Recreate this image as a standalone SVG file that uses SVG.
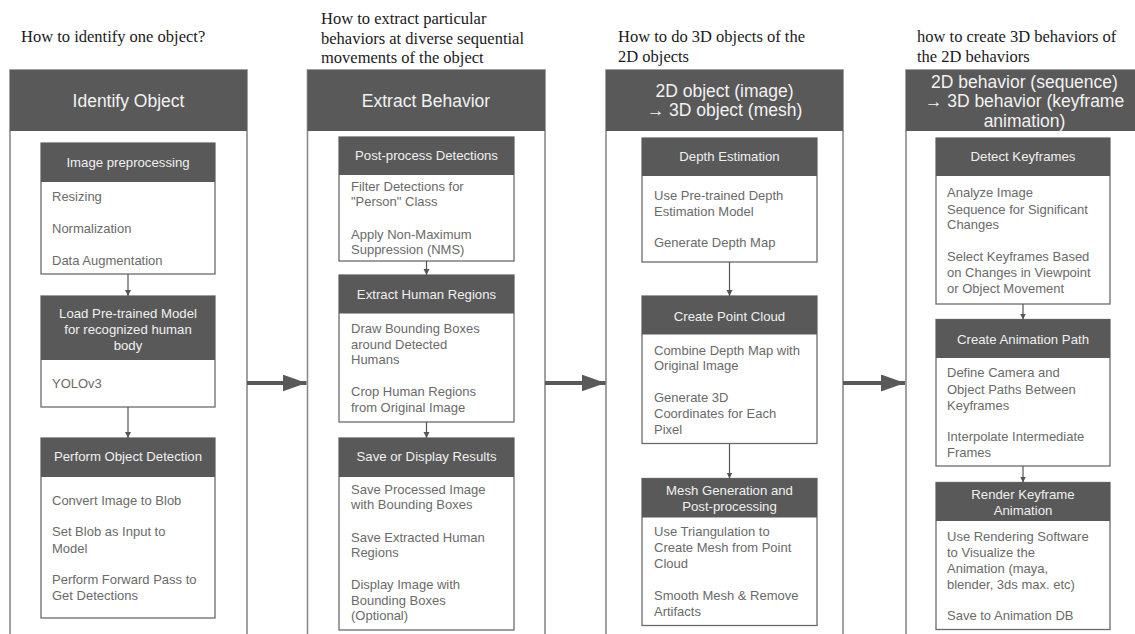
<svg xmlns="http://www.w3.org/2000/svg" width="1135" height="634" viewBox="0 0 1135 634">
<style>
.q{font-family:"Liberation Serif","Times New Roman",serif;font-size:16.5px;fill:#1a1a1a}
.panel{fill:#fff;stroke:#8a8a8a;stroke-width:1.6}
.phead{fill:#595959}
.ptitle{font-family:"Liberation Sans",Arial,sans-serif;font-size:17.5px;fill:#f2f2f2;text-anchor:middle}
.box{fill:#fff;stroke:#6a6a6a;stroke-width:1.3}
.bhead{fill:#595959}
.bt{font-family:"Liberation Sans",Arial,sans-serif;font-size:13.2px;fill:#f0f0f0;text-anchor:middle}
.tx{font-family:"Liberation Sans",Arial,sans-serif;font-size:13px;fill:#6a6a6a}
.sa{stroke:#555;stroke-width:1.2;fill:none;marker-end:url(#sm)}
.ba{stroke:#595959;stroke-width:4;fill:none;marker-end:url(#bg)}
</style>
<defs>
<marker id="sm" markerUnits="userSpaceOnUse" markerWidth="6" markerHeight="8" refX="6" refY="3" orient="auto" viewBox="0 0 6 6">
<path d="M0,0 L6,3 L0,6 z" fill="#555"/>
</marker>
<marker id="bg" markerUnits="userSpaceOnUse" markerWidth="24" markerHeight="17" refX="24" refY="8.5" orient="auto" viewBox="0 0 24 17">
<path d="M0,0 L24,8.5 L0,17 z" fill="#595959"/>
</marker>
</defs>
<rect width="1135" height="634" fill="#fff"/>

<g id="questions">
<text class="q" x="21" y="42">How to identify one object?</text>
<text class="q" x="321" y="24">How to extract particular</text>
<text class="q" x="321" y="43.7">behaviors at diverse sequential</text>
<text class="q" x="321" y="63.4">movements of the object</text>
<text class="q" x="618" y="42">How to do 3D objects of the</text>
<text class="q" x="618" y="61.7">2D objects</text>
<text class="q" x="917" y="42">how to create 3D behaviors of</text>
<text class="q" x="917" y="61.7">the 2D behaviors</text>
</g>

<g id="panel-identify">
<rect class="panel" x="10" y="70" width="237" height="590"/>
<rect class="phead" x="10" y="70" width="237" height="61"/>
<text class="ptitle" x="128.5" y="107">Identify Object</text>
</g>
<g id="panel-extract">
<rect class="panel" x="307.5" y="70" width="237.5" height="590"/>
<rect class="phead" x="307.5" y="70" width="237.5" height="61"/>
<text class="ptitle" x="426" y="107">Extract Behavior</text>
</g>
<g id="panel-3dobject">
<rect class="panel" x="606" y="70" width="237" height="590"/>
<rect class="phead" x="606" y="70" width="237" height="61"/>
<text class="ptitle" x="724.5" y="96.5">2D object (image)</text>
<text class="ptitle" x="724.5" y="116.3">→ 3D object (mesh)</text>
</g>
<g id="panel-3dbehavior">
<rect class="panel" x="906" y="70" width="237" height="590"/>
<rect class="phead" x="906" y="70" width="237" height="61"/>
<text class="ptitle" x="1024.5" y="88">2D behavior (sequence)</text>
<text class="ptitle" x="1024.5" y="107.3">→ 3D behavior (keyframe</text>
<text class="ptitle" x="1024.5" y="126.5">animation)</text>
</g>

<g id="image-preprocessing">
<rect class="box" x="41" y="143" width="174" height="131"/>
<rect class="bhead" x="41" y="143" width="174" height="39"/>
<text class="bt" x="128" y="167">Image preprocessing</text>
<text class="tx" x="52" y="201">Resizing</text>
<text class="tx" x="52" y="233">Normalization</text>
<text class="tx" x="52" y="264.5">Data Augmentation</text>
</g>
<g id="load-model">
<rect class="box" x="41" y="296" width="174" height="111"/>
<rect class="bhead" x="41" y="296" width="174" height="64"/>
<text class="bt" x="128" y="318">Load Pre-trained Model</text>
<text class="bt" x="128" y="334">for recognized human</text>
<text class="bt" x="128" y="350">body</text>
<text class="tx" x="52" y="387.5">YOLOv3</text>
</g>
<g id="object-detection">
<rect class="box" x="41" y="438" width="174" height="180"/>
<rect class="bhead" x="41" y="438" width="174" height="39"/>
<text class="bt" x="128" y="461">Perform Object Detection</text>
<text class="tx" x="52" y="504.5">Convert Image to Blob</text>
<text class="tx" x="52" y="536">Set Blob as Input to</text>
<text class="tx" x="52" y="553">Model</text>
<text class="tx" x="52" y="584">Perform Forward Pass to</text>
<text class="tx" x="52" y="600">Get Detections</text>
</g>

<g id="post-process">
<rect class="box" x="339" y="137" width="175" height="124"/>
<rect class="bhead" x="339" y="137" width="175" height="38"/>
<text class="bt" x="426.5" y="160">Post-process Detections</text>
<text class="tx" x="351" y="190.5">Filter Detections for</text>
<text class="tx" x="351" y="206">"Person" Class</text>
<text class="tx" x="351" y="238.5">Apply Non-Maximum</text>
<text class="tx" x="351" y="254">Suppression (NMS)</text>
</g>
<g id="extract-regions">
<rect class="box" x="339" y="275" width="175" height="147"/>
<rect class="bhead" x="339" y="275" width="175" height="38.5"/>
<text class="bt" x="426.5" y="298.5">Extract Human Regions</text>
<text class="tx" x="351" y="333">Draw Bounding Boxes</text>
<text class="tx" x="351" y="348.5">around Detected</text>
<text class="tx" x="351" y="364">Humans</text>
<text class="tx" x="351" y="396">Crop Human Regions</text>
<text class="tx" x="351" y="412">from Original Image</text>
</g>
<g id="save-results">
<rect class="box" x="339" y="438" width="175" height="192"/>
<rect class="bhead" x="339" y="438" width="175" height="39"/>
<text class="bt" x="426.5" y="461">Save or Display Results</text>
<text class="tx" x="351" y="494">Save Processed Image</text>
<text class="tx" x="351" y="509">with Bounding Boxes</text>
<text class="tx" x="351" y="541.5">Save Extracted Human</text>
<text class="tx" x="351" y="557">Regions</text>
<text class="tx" x="351" y="589">Display Image with</text>
<text class="tx" x="351" y="605">Bounding Boxes</text>
<text class="tx" x="351" y="620">(Optional)</text>
</g>

<g id="depth-estimation">
<rect class="box" x="642" y="138" width="175" height="124"/>
<rect class="bhead" x="642" y="138" width="175" height="38"/>
<text class="bt" x="729.5" y="161">Depth Estimation</text>
<text class="tx" x="654" y="199.5">Use Pre-trained Depth</text>
<text class="tx" x="654" y="215.5">Estimation Model</text>
<text class="tx" x="654" y="247">Generate Depth Map</text>
</g>
<g id="point-cloud">
<rect class="box" x="642" y="296" width="175" height="147.5"/>
<rect class="bhead" x="642" y="296" width="175" height="38.5"/>
<text class="bt" x="729.5" y="320.5">Create Point Cloud</text>
<text class="tx" x="654" y="354.5">Combine Depth Map with</text>
<text class="tx" x="654" y="370">Original Image</text>
<text class="tx" x="654" y="402">Generate 3D</text>
<text class="tx" x="654" y="418">Coordinates for Each</text>
<text class="tx" x="654" y="433.5">Pixel</text>
</g>
<g id="mesh-generation">
<rect class="box" x="642" y="478.5" width="175" height="147"/>
<rect class="bhead" x="642" y="478.5" width="175" height="39"/>
<text class="bt" x="729.5" y="494.5">Mesh Generation and</text>
<text class="bt" x="729.5" y="510.5">Post-processing</text>
<text class="tx" x="654" y="536">Use Triangulation to</text>
<text class="tx" x="654" y="552">Create Mesh from Point</text>
<text class="tx" x="654" y="568">Cloud</text>
<text class="tx" x="654" y="600">Smooth Mesh &amp; Remove</text>
<text class="tx" x="654" y="616">Artifacts</text>
</g>

<g id="detect-keyframes">
<rect class="box" x="936" y="138" width="174" height="166"/>
<rect class="bhead" x="936" y="138" width="174" height="38"/>
<text class="bt" x="1023" y="161">Detect Keyframes</text>
<text class="tx" x="947" y="197">Analyze Image</text>
<text class="tx" x="947" y="213.5">Sequence for Significant</text>
<text class="tx" x="947" y="228.5">Changes</text>
<text class="tx" x="947" y="261">Select Keyframes Based</text>
<text class="tx" x="947" y="277">on Changes in Viewpoint</text>
<text class="tx" x="947" y="293">or Object Movement</text>
</g>
<g id="animation-path">
<rect class="box" x="936" y="319.5" width="174" height="146.5"/>
<rect class="bhead" x="936" y="319.5" width="174" height="38.5"/>
<text class="bt" x="1023" y="344">Create Animation Path</text>
<text class="tx" x="947" y="377">Define Camera and</text>
<text class="tx" x="947" y="393.5">Object Paths Between</text>
<text class="tx" x="947" y="409.5">Keyframes</text>
<text class="tx" x="947" y="441">Interpolate Intermediate</text>
<text class="tx" x="947" y="457">Frames</text>
</g>
<g id="render-animation">
<rect class="box" x="936" y="482.5" width="174" height="147"/>
<rect class="bhead" x="936" y="482.5" width="174" height="38.5"/>
<text class="bt" x="1023" y="498.5">Render Keyframe</text>
<text class="bt" x="1023" y="514.5">Animation</text>
<text class="tx" x="947" y="541">Use Rendering Software</text>
<text class="tx" x="947" y="557">to Visualize the</text>
<text class="tx" x="947" y="573">Animation (maya,</text>
<text class="tx" x="947" y="589">blender, 3ds max. etc)</text>
<text class="tx" x="947" y="620">Save to Animation DB</text>
</g>

<g id="connectors">
<line class="sa" x1="128" y1="274" x2="128" y2="296"/>
<line class="sa" x1="128" y1="407" x2="128" y2="438"/>
<line class="sa" x1="426.5" y1="261" x2="426.5" y2="275"/>
<line class="sa" x1="426.5" y1="422" x2="426.5" y2="438"/>
<line class="sa" x1="729.5" y1="262" x2="729.5" y2="296"/>
<line class="sa" x1="729.5" y1="443.5" x2="729.5" y2="478.5"/>
<line class="sa" x1="1023" y1="304" x2="1023" y2="319.5"/>
<line class="sa" x1="1023" y1="466" x2="1023" y2="482.5"/>
<line class="ba" x1="247" y1="383" x2="306.5" y2="383"/>
<line class="ba" x1="545" y1="383" x2="605.5" y2="383"/>
<line class="ba" x1="843" y1="383" x2="905" y2="383"/>
</g>
</svg>
